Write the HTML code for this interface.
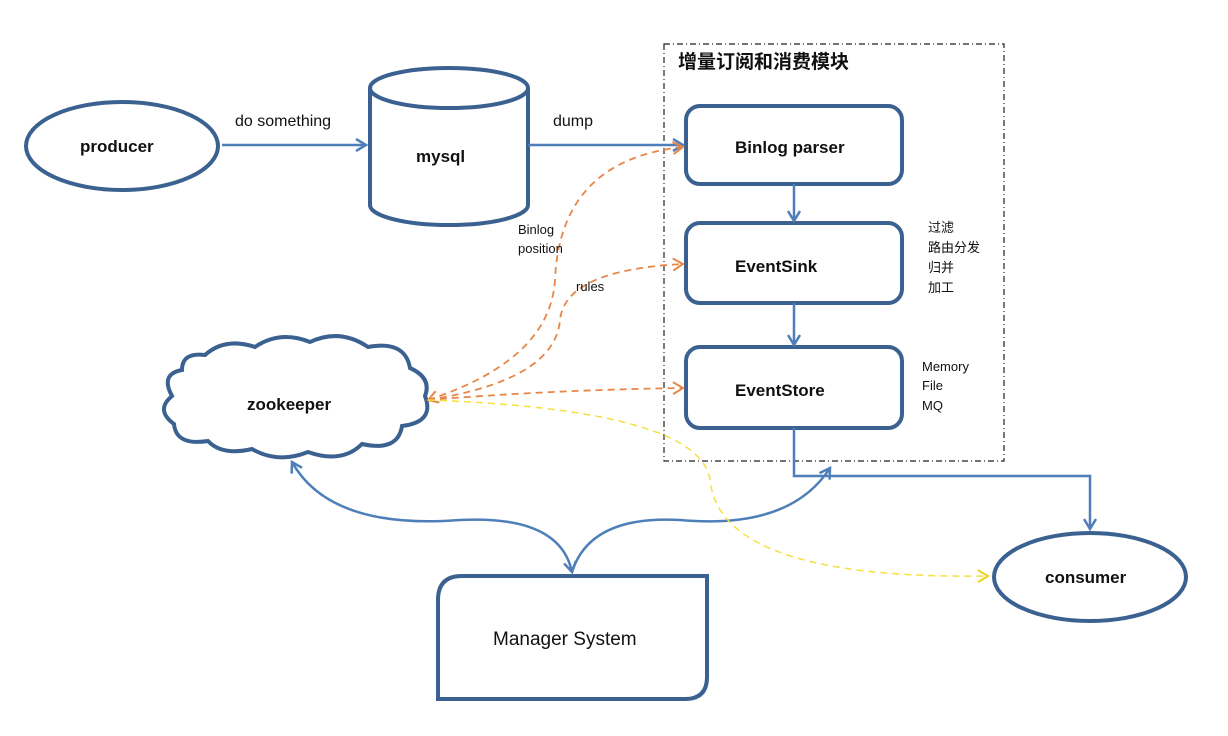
<!DOCTYPE html>
<html><head><meta charset="utf-8"><style>
html,body{margin:0;padding:0;background:#fff;}
svg{display:block;}
text{font-family:"Liberation Sans","Noto Sans CJK SC",sans-serif;fill:#111;}
.b{font-weight:bold;font-size:17px;}
.s{font-size:13px;}
</style></head><body>
<svg width="1228" height="736" viewBox="0 0 1228 736" xmlns="http://www.w3.org/2000/svg">
<defs>
<marker id="ab" markerWidth="14" markerHeight="14" refX="11" refY="7" orient="auto-start-reverse" markerUnits="userSpaceOnUse"><path d="M1,1 L11,7 L1,13" fill="none" stroke="#4f7fb8" stroke-width="2.5"/></marker>
<marker id="ao" markerWidth="14" markerHeight="14" refX="11" refY="7" orient="auto-start-reverse" markerUnits="userSpaceOnUse"><path d="M1,1 L11,7 L1,13" fill="none" stroke="#e8864a" stroke-width="2"/></marker>
<marker id="ay" markerWidth="14" markerHeight="14" refX="11" refY="7" orient="auto-start-reverse" markerUnits="userSpaceOnUse"><path d="M1,1 L11,7 L1,13" fill="none" stroke="#f0d020" stroke-width="2"/></marker>
</defs>
<g fill="#fff" stroke="#3a6190" stroke-width="4">
<ellipse cx="122" cy="146" rx="96" ry="44"/>
<path d="M370,88 L370,205 A79,20 0 0 0 528,205 L528,88"/>
<ellipse cx="449" cy="88" rx="79" ry="20"/>
<rect x="686" y="106" width="216" height="78" rx="14"/>
<rect x="686" y="223" width="216" height="80" rx="14"/>
<rect x="686" y="347" width="216" height="81" rx="14"/>
<ellipse cx="1090" cy="577" rx="96" ry="44"/>
<path d="M462,576 L707,576 L707,677 Q707,699 685,699 L438,699 L438,600 Q438,576 462,576 Z"/>
<path d="M205,355 Q225,337 255,347 Q280,330 310,342 Q340,328 368,347 Q405,340 410,368 Q432,378 425,396 Q435,422 402,426 Q398,452 362,444 Q342,464 308,452 Q278,464 252,449 Q222,456 208,441 Q176,446 174,424 Q155,410 172,396 Q160,374 182,370 Q182,352 205,355 Z"/>
</g>
<rect x="664" y="44" width="340" height="417" fill="none" stroke="#222" stroke-width="1.2" stroke-dasharray="6,3,1,3"/>
<g fill="none" stroke="#4f7fb8" stroke-width="2.5">
<line x1="222" y1="145" x2="366" y2="145" marker-end="url(#ab)"/>
<line x1="528" y1="145" x2="683" y2="145" marker-end="url(#ab)"/>
<line x1="794" y1="184" x2="794" y2="221" marker-end="url(#ab)"/>
<line x1="794" y1="303" x2="794" y2="345" marker-end="url(#ab)"/>
<path d="M794,428 L794,476 L1090,476 L1090,529" marker-end="url(#ab)"/>
<path d="M292,462 Q330,530 460,520 Q560,515 572,572" marker-start="url(#ab)" marker-end="url(#ab)"/>
<path d="M830,468 Q790,530 680,520 Q590,515 572,572" marker-start="url(#ab)"/>
</g>
<g fill="none" stroke="#e8864a" stroke-width="1.8" stroke-dasharray="7,5">
<path d="M428,400 Q550,360 555,280 Q560,160 683,147" marker-start="url(#ao)" marker-end="url(#ao)"/>
<path d="M428,400 Q555,380 560,320 Q565,270 683,264" marker-end="url(#ao)"/>
<path d="M428,400 Q550,390 683,388" marker-end="url(#ao)"/>
</g>
<path d="M428,400 Q700,410 710,480 Q720,580 988,576" fill="none" stroke="#f4e040" stroke-width="1.5" stroke-dasharray="7,5" marker-end="url(#ay)"/>
<text class="b" x="80" y="152">producer</text>
<text class="b" x="416" y="162">mysql</text>
<text class="b" x="735" y="153">Binlog parser</text>
<text class="b" x="735" y="272">EventSink</text>
<text class="b" x="735" y="396">EventStore</text>
<text class="b" x="1045" y="583">consumer</text>
<text class="b" x="247" y="410">zookeeper</text>
<text x="493" y="645" style="font-size:19px">Manager System</text>
<text x="678" y="68" style="font-size:19px;font-weight:bold">增量订阅和消费模块</text>
<text x="235" y="126" style="font-size:16px">do something</text>
<text x="553" y="126" style="font-size:16px">dump</text>
<text class="s" x="518" y="234">Binlog</text>
<text class="s" x="518" y="253">position</text>
<text class="s" x="576" y="291">rules</text>
<text class="s" x="928" y="232">过滤</text>
<text class="s" x="928" y="252">路由分发</text>
<text class="s" x="928" y="272">归并</text>
<text class="s" x="928" y="292">加工</text>
<text class="s" x="922" y="371">Memory</text>
<text class="s" x="922" y="390">File</text>
<text class="s" x="922" y="410">MQ</text>
</svg>
</body></html>
